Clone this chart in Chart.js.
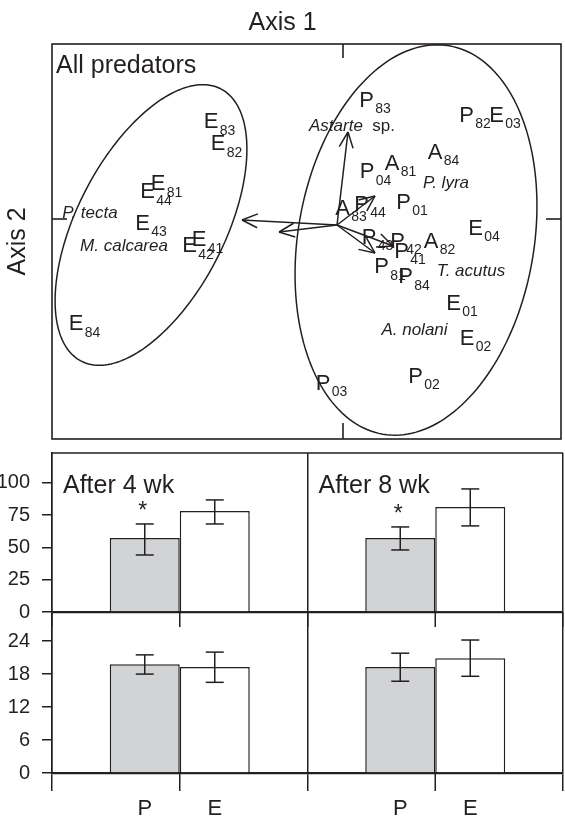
<!DOCTYPE html>
<html>
<head>
<meta charset="utf-8">
<script src="https://cdn.jsdelivr.net/npm/chart.js@4"></script>
<style>
  html, body { margin: 0; padding: 0; background: #fff; }
  body { width: 565px; height: 822px; position: relative; overflow: hidden; }
  canvas { position: absolute; left: 0; }
  #ord { top: 0; }
  #barsTop { top: 440px; }
  #barsBottom { top: 600px; }
</style>
</head>
<body>
<canvas id="ord" width="565" height="450"></canvas>
<canvas id="barsTop" width="565" height="190"></canvas>
<canvas id="barsBottom" width="565" height="222"></canvas>
<script>
// ordination scores
const sampleNames = ['E83', 'E82', 'E81', 'E44', 'E43', 'E41', 'E42', 'E84',
  'P83', 'P82', 'E03', 'A84', 'A81', 'P04', 'P01', 'A83', 'P44', 'E04',
  'P43', 'P42', 'P41', 'A82', 'P81', 'P84', 'E01', 'E02', 'P02', 'P03'];
const sampleAxis1 = [-1.32, -1.25, -1.85, -1.955, -2.005, -1.44, -1.535, -2.67,
  0.235, 1.235, 1.535, 0.92, 0.49, 0.24, 0.605, -0.005, 0.185, 1.325,
  0.26, 0.545, 0.585, 0.88, 0.385, 0.625, 1.105, 1.24, 0.725, -0.2];
const sampleAxis2 = [0.99, 0.77, 0.37, 0.29, -0.025, -0.19, -0.25, -1.03,
  1.205, 1.055, 1.055, 0.685, 0.575, 0.49, 0.185, 0.125, 0.165, -0.075,
  -0.165, -0.205, -0.305, -0.205, -0.46, -0.56, -0.825, -1.175, -1.555, -1.625];

const speciesNames = ['P. tecta', 'M. calcarea', 'Astarte sp.', 'P. lyra', 'T. acutus', 'A. nolani'];
const speciesAxis1 = [-2.53, -2.19, 0.09, 1.03, 1.28, 0.715];
const speciesAxis2 = [0.07, -0.26, 0.94, 0.37, -0.51, -1.10];

const arrowOrigin = [-0.06, -0.06];
const arrowAxis1 = [-1.01, -0.64, 0.05, 0.32, 0.50, 0.32];
const arrowAxis2 = [-0.01, -0.13, 0.87, 0.23, -0.27, -0.34];

// group ellipses: centre, semi axes, tilt (deg)
const ellipseCx = [-1.92, 0.73];
const ellipseCy = [-0.06, -0.21];
const ellipseA = [1.53, 1.97];
const ellipseB = [0.74, 1.18];
const ellipseTilt = [62.9, 80.3];

// bar panels
const groups = ['After 4 wk', 'After 8 wk'];
const treatments = ['P', 'E'];

const topP = [57.3, 57.3];
const topPLow = [44.1, 48.0];
const topPHigh = [68.1, 65.8];
const topE = [78.2, 81.3];
const topELow = [68.1, 66.6];
const topEHigh = [86.7, 95.2];
const topSignificant = [true, true];

const bottomP = [19.8, 19.3];
const bottomPLow = [18.0, 16.7];
const bottomPHigh = [21.5, 21.8];
const bottomE = [19.3, 20.9];
const bottomELow = [16.5, 17.6];
const bottomEHigh = [22.0, 24.2];
const bottomSignificant = [false, false];

const ink = '#231f20';
const fontFam = "'Liberation Sans', Arial, Helvetica, sans-serif";
Chart.defaults.font.family = fontFam;
Chart.defaults.color = ink;

function line(ctx, x1, y1, x2, y2) {
  ctx.beginPath();
  ctx.moveTo(x1, y1);
  ctx.lineTo(x2, y2);
  ctx.stroke();
}

const ordPlugin = {
  id: 'ordDecor',
  afterDatasetsDraw(chart) {
    const ctx = chart.ctx;
    const xs = chart.scales.x, ys = chart.scales.y;
    const a = chart.chartArea;
    ctx.save();
    ctx.strokeStyle = ink;
    ctx.fillStyle = ink;
    ctx.lineWidth = 1.6;
    ctx.strokeRect(a.left, a.top, a.right - a.left, a.bottom - a.top);

    const x0 = xs.getPixelForValue(0), y0 = ys.getPixelForValue(0);
    line(ctx, x0, a.top, x0, a.top + 14);
    line(ctx, x0, a.bottom, x0, a.bottom - 16);
    line(ctx, a.left, y0, a.left + 15, y0);
    line(ctx, a.right, y0, a.right - 15, y0);

    // ellipses
    ctx.lineWidth = 1.5;
    ellipseCx.forEach((cx, k) => {
      const th = ellipseTilt[k] * Math.PI / 180;
      ctx.beginPath();
      for (let i = 0; i <= 180; i++) {
        const t = i / 180 * Math.PI * 2;
        const ex = cx + ellipseA[k] * Math.cos(t) * Math.cos(th) - ellipseB[k] * Math.sin(t) * Math.sin(th);
        const ey = ellipseCy[k] + ellipseA[k] * Math.cos(t) * Math.sin(th) + ellipseB[k] * Math.sin(t) * Math.cos(th);
        const px = xs.getPixelForValue(ex), py = ys.getPixelForValue(ey);
        if (i === 0) ctx.moveTo(px, py); else ctx.lineTo(px, py);
      }
      ctx.stroke();
    });

    // arrows
    const ox = xs.getPixelForValue(arrowOrigin[0]), oy = ys.getPixelForValue(arrowOrigin[1]);
    arrowAxis1.forEach((ax, i) => {
      const tx = xs.getPixelForValue(ax), ty = ys.getPixelForValue(arrowAxis2[i]);
      line(ctx, ox, oy, tx, ty);
      const ang = Math.atan2(ty - oy, tx - ox);
      const hl = 17, spread = 0.42;
      line(ctx, tx, ty, tx - hl * Math.cos(ang - spread), ty - hl * Math.sin(ang - spread));
      line(ctx, tx, ty, tx - hl * Math.cos(ang + spread), ty - hl * Math.sin(ang + spread));
    });

    // sample labels
    ctx.textBaseline = 'alphabetic';
    chart.getDatasetMeta(0).data.forEach((pt, i) => {
      const name = sampleNames[i];
      ctx.font = '22px ' + fontFam;
      const w = ctx.measureText(name[0]).width;
      ctx.textAlign = 'center';
      ctx.fillText(name[0], pt.x, pt.y + 8);
      ctx.font = '14px ' + fontFam;
      ctx.textAlign = 'left';
      ctx.fillText(name.slice(1), pt.x + w / 2 + 1.5, pt.y + 14.5);
    });

    // species labels
    chart.getDatasetMeta(1).data.forEach((pt, i) => {
      const name = speciesNames[i];
      let main = name, tail = '';
      if (name.endsWith(' sp.')) { main = name.slice(0, -4); tail = '  sp.'; }
      ctx.font = 'italic 17px ' + fontFam;
      const w1 = ctx.measureText(main).width;
      ctx.font = '17px ' + fontFam;
      const w2 = tail ? ctx.measureText(tail).width : 0;
      let x = pt.x - (w1 + w2) / 2;
      ctx.textAlign = 'left';
      ctx.font = 'italic 17px ' + fontFam;
      ctx.fillText(main, x, pt.y + 6);
      if (tail) {
        ctx.font = '17px ' + fontFam;
        ctx.fillText(tail, x + w1, pt.y + 6);
      }
    });

    ctx.font = '25px ' + fontFam;
    ctx.textAlign = 'left';
    ctx.fillText('All predators', a.left + 4, a.top + 29);
    ctx.textAlign = 'center';
    ctx.fillText('Axis 1', chart.width / 2, 30);
    ctx.translate(25, (a.top + a.bottom) / 2);
    ctx.rotate(-Math.PI / 2);
    ctx.fillText('Axis 2', 0, 0);
    ctx.restore();
  }
};

new Chart(document.getElementById('ord'), {
  type: 'scatter',
  data: {
    datasets: [{
      data: sampleAxis1.map((x, i) => ({ x, y: sampleAxis2[i] })),
      pointRadius: 0
    }, {
      data: speciesAxis1.map((x, i) => ({ x, y: speciesAxis2[i] })),
      pointRadius: 0
    }]
  },
  options: {
    responsive: false,
    animation: false,
    layout: { padding: { left: 52, top: 44, right: 4, bottom: 11 } },
    plugins: { legend: { display: false }, tooltip: { enabled: false } },
    scales: {
      x: { type: 'linear', min: -2.91, max: 2.18, display: false },
      y: { type: 'linear', min: -2.20, max: 1.75, display: false }
    }
  },
  plugins: [ordPlugin]
});

function barPanel(canvasId, pVals, pLow, pHigh, eVals, eLow, eHigh, sig, yMax, yStep, opt) {
  const lows = [pLow, eLow], highs = [pHigh, eHigh];
  const deco = {
    id: 'barDecor',
    afterDatasetsDraw(chart) {
      const ctx = chart.ctx;
      const xs = chart.scales.x, ys = chart.scales.y;
      const a = chart.chartArea;
      ctx.save();
      ctx.strokeStyle = ink;
      ctx.fillStyle = ink;
      ctx.lineWidth = 1.5;
      // error bars
      [0, 1].forEach(d => {
        chart.getDatasetMeta(d).data.forEach((bar, i) => {
          const yh = ys.getPixelForValue(highs[d][i]);
          const yl = ys.getPixelForValue(lows[d][i]);
          line(ctx, bar.x, yh, bar.x, yl);
          line(ctx, bar.x - 9, yh, bar.x + 9, yh);
          line(ctx, bar.x - 9, yl, bar.x + 9, yl);
          if (d === 0 && sig[i]) {
            ctx.font = '23px ' + fontFam;
            ctx.textAlign = 'center';
            ctx.fillText('*', bar.x - 2, yh - 6);
          }
        });
      });
      // P|E ticks under the axis
      groups.forEach((g, i) => {
        const cx = xs.getPixelForValue(i);
        line(ctx, cx, a.bottom, cx, a.bottom + opt.tick);
      });
      if (opt.top) {
        line(ctx, a.left, a.top, a.right, a.top);
      }
      if (opt.groupLabels) {
        ctx.font = '25px ' + fontFam;
        ctx.textAlign = 'left';
        const cw = (a.right - a.left) / groups.length;
        groups.forEach((g, i) => {
          ctx.fillText(g, a.left + cw * i + 11, a.top + 40);
        });
      }
      if (opt.treatLabels) {
        ctx.font = '22px ' + fontFam;
        ctx.textAlign = 'center';
        [0, 1].forEach(d => {
          chart.getDatasetMeta(d).data.forEach(bar => {
            ctx.fillText(treatments[d], bar.x, a.bottom + 42);
          });
        });
      }
      ctx.restore();
    }
  };

  new Chart(document.getElementById(canvasId), {
    type: 'bar',
    data: {
      labels: groups,
      datasets: [{
        label: treatments[0],
        data: pVals,
        backgroundColor: '#d1d3d4',
        borderColor: ink,
        borderWidth: 1.5,
        categoryPercentage: 0.548,
        barPercentage: 1
      }, {
        label: treatments[1],
        data: eVals,
        backgroundColor: '#ffffff',
        borderColor: ink,
        borderWidth: 1.5,
        categoryPercentage: 0.548,
        barPercentage: 1
      }]
    },
    options: {
      responsive: false,
      animation: false,
      layout: { padding: { left: 0, top: opt.padTop, right: 2, bottom: 0 } },
      plugins: { legend: { display: false }, tooltip: { enabled: false } },
      scales: {
        x: {
          afterFit(scale) {
            scale.height = opt.xHeight;
            scale.paddingLeft = 0;
            scale.paddingRight = 0;
          },
          ticks: { display: false },
          grid: {
            offset: true,
            drawOnChartArea: true,
            drawTicks: true,
            tickLength: opt.tick,
            color: ink,
            lineWidth: 1.5
          },
          border: { display: true, color: ink, width: 2.2 }
        },
        y: {
          min: 0,
          max: yMax,
          afterFit(scale) {
            scale.width = 52;
            scale.paddingTop = 0;
            scale.paddingBottom = 0;
          },
          ticks: {
            stepSize: yStep,
            includeBounds: false,
            padding: 12,
            font: { size: 20 },
            color: ink
          },
          grid: {
            drawOnChartArea: false,
            drawTicks: true,
            tickLength: 10,
            color: ink,
            lineWidth: 1.5
          },
          border: { display: true, color: ink, width: 1.5 }
        }
      }
    },
    plugins: [deco]
  });
}

barPanel('barsTop', topP, topPLow, topPHigh, topE, topELow, topEHigh, topSignificant, 123, 25,
  { padTop: 13, xHeight: 18, tick: 15, top: true, groupLabels: true, treatLabels: false });
barPanel('barsBottom', bottomP, bottomPLow, bottomPHigh, bottomE, bottomELow, bottomEHigh, bottomSignificant, 29.3, 6,
  { padTop: 12, xHeight: 49, tick: 18, top: false, groupLabels: false, treatLabels: true });
</script>
</body>
</html>
